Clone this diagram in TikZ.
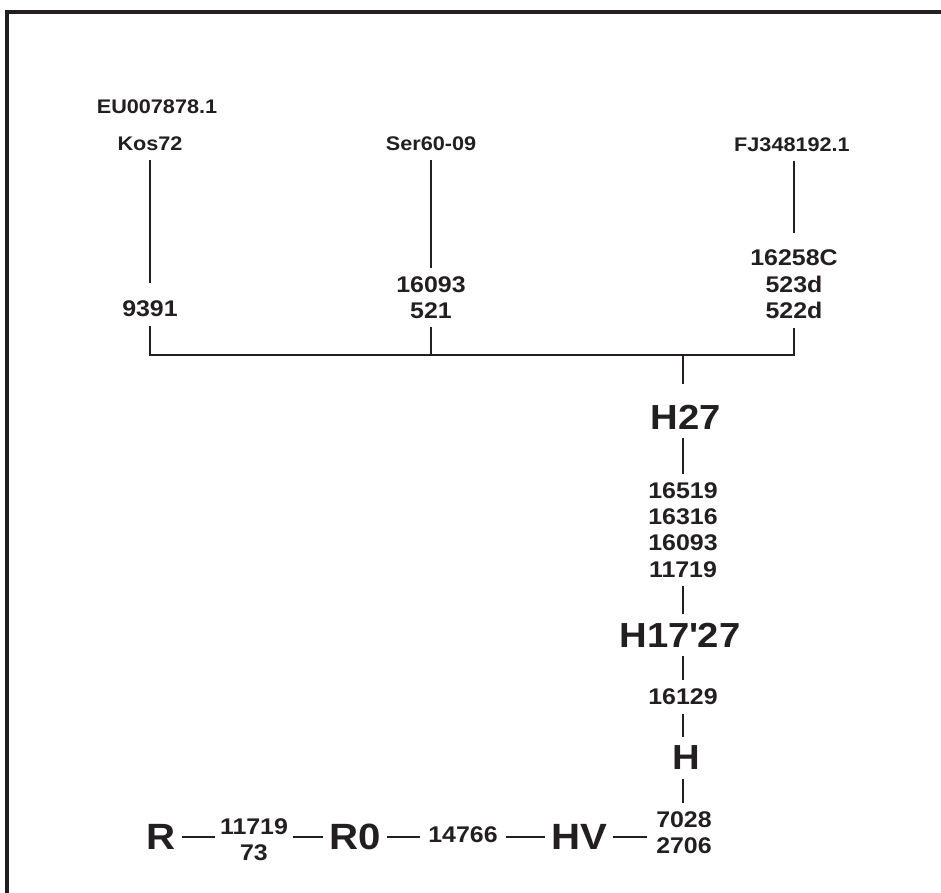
\documentclass[tikz,border=0pt]{standalone}
\usepackage{fontspec}
\setmainfont{Liberation Sans}[FakeStretch=1.1]
\usetikzlibrary{calc}
\definecolor{ink}{HTML}{231F20}

\begin{document}
\begin{tikzpicture}[x=0.02cm, y=-0.02cm,
    link/.style={draw=ink, line width=1.3pt},
    frame/.style={draw=ink, line width=2pt},
    tip/.style={font=\bfseries\fontsize{11.2}{13}\selectfont, text=ink, inner sep=0pt, outer sep=5pt},
    mut/.style={font=\bfseries\fontsize{12.9}{15}\selectfont, text=ink, inner sep=0pt, outer sep=5pt, align=center},
    hap/.style={font=\bfseries\fontsize{19.8}{22}\selectfont, text=ink, inner sep=0pt, outer sep=5pt},
    root/.style={hap, font=\bfseries\fontsize{20.8}{23}\selectfont, outer sep=3.5pt}]
    \useasboundingbox (0,0) rectangle (941,893);

    % Frame (only top and left edges show)
    \draw[frame] (7,893) -- (7,12) -- (941,12);

    % Tips of the tree
    \node[tip] (eu) at (157,107) {EU007878.1};
    \node[tip] (kos) at (150,144) {Kos72};
    \node[tip] (ser) at (431,144) {Ser60-09};
    \node[tip] (fj) at (792,145) {FJ348192.1};

    % Private mutations
    \node[mut] (m9391) at (150,309) {9391};
    \node[mut] (m521) at (431,297.5) {16093\\521};
    \node[mut] (m522) at (794,284.5) {16258C\\523d\\522d};
    \coordinate (bar) at (683,355);

    % Trunk up from R
    \node[hap] (h27) at (686,417) {H27};
    \node[mut] (m11719) at (683,530) {16519\\16316\\16093\\11719};
    \node[hap] (h1727) at (680,635) {H17\textquotesingle 27};
    \node[mut] (m16129) at (683,697) {16129};
    \node[hap] (hh) at (686,758) {H};
    \node[mut] (m2706) at (684,833) {7028\\2706};
    \node[root] (hv) at (579,837) {HV};
    \node[mut] (m14766) at (463,835) {14766};
    \node[root] (r0) at (355,837) {R0};
    \node[mut, outer sep=3pt] (m73) at (254,840) {11719\\73};
    \node[root] (r) at (161,837) {R};

    % Tip stems
    \draw[link, shorten >=5.5pt] (kos.south -| m9391) -- (m9391);
    \draw[link] (ser) -- (m521);
    \draw[link, shorten >=4.5pt] (fj.south -| m522) -- (m522);

    % Bracket joining the three tips
    \draw[link] (m9391.south) |- (bar) -| (m522.south);
    \draw[link] (m521.south) -- (m521.south |- bar);
    \draw[link, shorten >=7pt] (bar) -- (bar |- h27.north);

    % Vertical chain
    \draw[link] (h27.south -| m11719) -- (m11719.north);
    \draw[link] (m11719.south) -- (m11719.south |- h1727.north);
    \draw[link] (h1727.south -| m16129) -- (m16129.north);
    \draw[link] (m16129.south) -- (m16129.south |- hh.north);
    \draw[link] (hh.south -| m16129) -- (m16129 |- m2706.north);

    % Bottom row
    \draw[link] (r.east) -- (r.east -| m73.west);
    \draw[link] (m73.east |- r0.west) -- (r0.west);
    \draw[link] (r0.east) -- (r0.east -| m14766.west);
    \draw[link] (m14766.east |- hv) -- (hv.west);
    \draw[link] (hv.east) -- (hv.east -| m2706.west);
\end{tikzpicture}
\end{document}
